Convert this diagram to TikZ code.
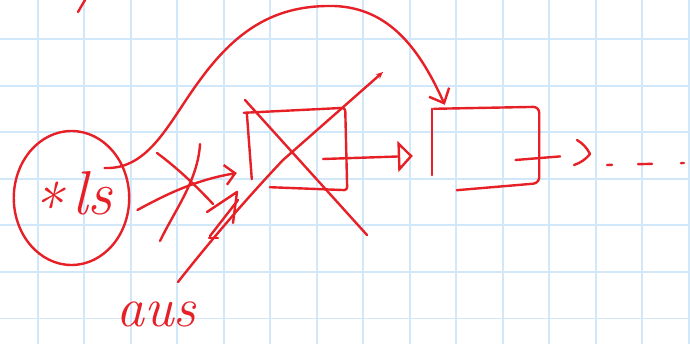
\documentclass[tikz,border=0pt]{standalone}
\usetikzlibrary{arrows.meta,shapes.geometric}
\definecolor{penred}{RGB}{230,32,38}
\definecolor{gridblue}{RGB}{208,232,250}
\tikzset{
  redpen/.style={draw=penred, line width=2.4pt, line cap=round, line join=round},
  gridline/.style={draw=gridblue, line width=1.6pt},
  listbox/.style={minimum width=#1, minimum height=80pt, inner sep=0pt},
  scribble/.style={text=penred, inner sep=0pt},
}
\begin{document}
\begin{tikzpicture}[x=1pt,y=-1pt]
\useasboundingbox (0,0) rectangle (690,344);
% Squared paper
\fill[white] (0,0) rectangle (690,344);
\foreach \i in {0,...,14} \draw[gridline] ({37.7+46.5*\i},0) -- ++(0,344);
\foreach \j in {0,...,6} \draw[gridline] (0,{39.3+46.5*\j}) -- ++(690,0);

% Head pointer and the two list cells
\node[redpen, ellipse, scribble, minimum width=115pt, minimum height=134pt,
      text height=43pt, text depth=10pt, font=\fontsize{62}{62}\selectfont\itshape]
      (ls) at (71.5,198) {\raisebox{-0.22em}{*}\,ls};
\node[listbox=102pt] (b1) at (296,149) {};
\node[listbox=107pt] (b2) at (485.5,147) {};
\node[scribble, font=\fontsize{56}{56}\selectfont\itshape] (ans) at (156,314) {aus};

% Box outlines, drawn by hand
\draw[redpen] ([shift={(7,-10)}]b1.south west) -- ([shift={(2,4)}]b1.north west);
\draw[redpen, rounded corners=3pt] ([shift={(-1,4)}]b1.north west) -- ([shift={(-2,-1)}]b1.north east)
    -- ([shift={(0,1)}]b1.south east) -- ([shift={(25,-2)}]b1.south west);
\draw[redpen] ([shift={(0,-12)}]b2.south west) -- ([shift={(0,2)}]b2.north west);
\draw[redpen, rounded corners=6pt] ([shift={(2,2)}]b2.north west) -- (b2.north east)
    -- ([shift={(0,-4)}]b2.south east) -- ([shift={(25,3)}]b2.south west);

% ls now points past the first cell
\draw[redpen, -{Straight Barb[length=12pt,width=22pt]}] ([shift={(33,-30)}]ls.center)
    .. controls (150,170) and (170,120) .. (200,80)
    .. controls (240,25) and (280,5) .. (334,6)
    .. controls (390,8) and (420,50) .. ([shift={(13,-2)}]b2.north west);

% Old link, crossed out
\draw[redpen, -{Straight Barb[length=10pt,width=20pt]}] ([shift={(7,12)}]ls.east)
    .. controls (165,195) and (195,180) .. ([shift={(-8,24)}]b1.west);
\draw[redpen] (157,153) .. controls (180,170) and (200,190) .. (213,204);
\draw[redpen] (200,144) .. controls (198,180) and (175,210) .. (160,241);
\draw[redpen] (207,212) -- (237,192) -- (233,223);

% First cell struck out
\draw[redpen] (245,100) -- (367,235);
\draw[redpen, -{Stealth[length=7pt,width=6pt]}] (178,282)
    .. controls (215,235) and (250,195) .. (283,160) -- (383,72);
\draw[redpen] (238,200) -- (210,236);
\draw[redpen] (209,238) -- (218,238);

% Links along the list
\draw[redpen, -{Triangle[open, length=15pt, width=31pt]}] ([shift={(27,10)}]b1.center) -- ([shift={(-19,9)}]b2.west);
\coordinate (more) at (590,154);
\draw[redpen, shorten >=30pt] ([shift={(30,13)}]b2.center) -- (more);
\draw[redpen] ([shift={(-13,-14)}]more) to[bend left=15] (more) to[bend left=15] ([shift={(-16,11)}]more);
\draw[redpen, dash pattern=on 5pt off 26pt on 14pt off 29pt on 3pt off 10pt] (607,165) -- (684,163);

% Stray mark at the top
\draw[redpen] (85,0) -- (78,12);
\end{tikzpicture}
\end{document}
